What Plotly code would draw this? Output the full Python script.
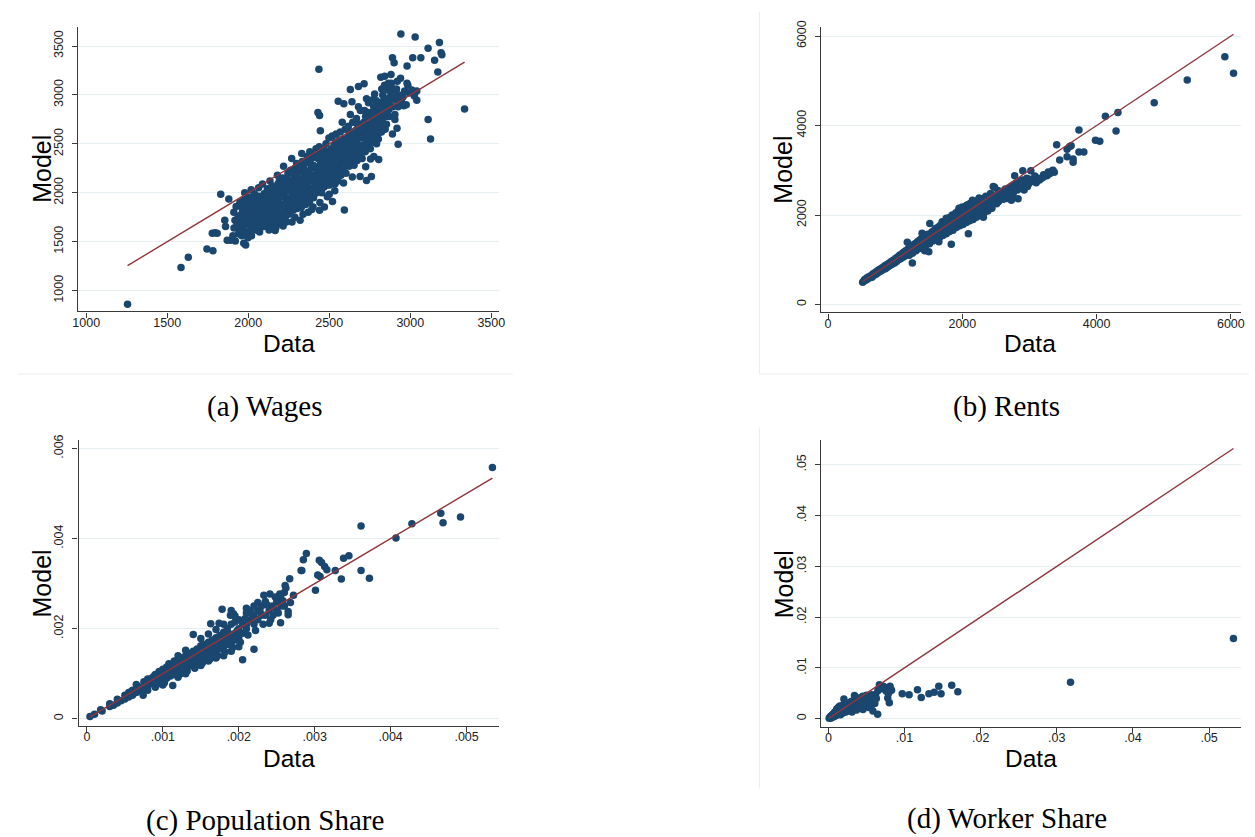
import plotly.graph_objects as go

# ---------------- data: (Data, Model) pairs ----------------
wages = [
    (1255, 860), (1585, 1235), (1630, 1340), (1745, 1425), (1782, 1408), (1778, 1585), (1795, 1590),
    (1808, 1585), (1830, 1985), (1880, 1935), (1855, 1720), (1860, 1655), (1870, 1515), (1890, 1515),
    (1920, 1507), (1911, 1800), (1984, 1466), (1972, 1483), (2166, 1615), (2593, 1825), (2436, 3263),
    (2430, 2820), (2440, 2790), (2445, 2635), (2942, 3622), (3030, 3593), (3180, 3535), (3110, 3478),
    (3190, 3430), (3195, 3410), (3150, 3355), (3065, 3380), (3015, 3380), (2980, 3295), (2890, 3380),
    (2900, 3330), (3170, 3235), (3335, 2855), (3040, 2945), (3110, 2750), (3125, 2550), (2925, 2495),
    (2918, 2660), (2905, 2750), (2960, 2890), (2980, 3120), (2630, 3055), (2680, 3085), (2715, 3115),
    (2555, 2935), (2590, 2910), (2640, 2930), (2805, 2340), (2775, 2370), (2755, 2345), (2690, 2165),
    (2760, 2165), (2730, 2125), (2725, 2265), (2520, 1910), (2500, 1985), (2470, 1855), (2440, 1820),
    (2400, 1855),
    (1905, 1560), (1912, 1640), (1918, 1720), (1925, 1860), (1930, 1680), (1938, 1760), (1945, 1620),
    (1948, 1900), (1940, 1580),
    (1955, 1700), (1958, 1780), (1962, 1840), (1966, 1650), (1970, 1920), (1975, 1730), (1980, 1600),
    (1984, 1860), (1988, 1790), (1992, 1960), (1995, 1680), (1998, 1540), (1960, 1560), (1978, 2000),
    (2003, 1700), (2006, 1800), (2010, 1880), (2014, 1650), (2018, 2030), (2022, 1760), (2026, 1940),
    (2030, 1710), (2034, 1850), (2038, 1990), (2042, 1620), (2046, 1780), (2048, 1900), (2020, 1560),
    (2053, 1680), (2056, 1780), (2060, 1900), (2064, 2050), (2068, 1740), (2072, 1840), (2076, 1960),
    (2080, 1650), (2084, 1880), (2088, 2090), (2092, 1820), (2095, 1720), (2098, 1990), (2070, 1600),
    (2103, 1700), (2106, 1790), (2110, 1870), (2114, 1950), (2118, 2040), (2122, 1660), (2126, 1830),
    (2130, 1920), (2134, 2120), (2138, 1760), (2142, 2000), (2146, 1680), (2148, 1880), (2128, 1620),
    (2153, 1720), (2156, 1850), (2160, 1940), (2164, 2050), (2168, 1780), (2172, 1900), (2176, 2000),
    (2180, 2180), (2184, 1820), (2188, 1680), (2192, 2120), (2195, 1960), (2198, 1760), (2170, 1640),
    (2203, 1730), (2206, 1880), (2210, 1990), (2214, 2080), (2218, 2270), (2222, 1800), (2226, 1950),
    (2230, 2040), (2234, 1700), (2238, 2150), (2242, 1830), (2245, 2200), (2248, 1920), (2215, 1660),
    (2253, 1800), (2256, 1920), (2260, 2030), (2264, 2120), (2268, 2350), (2272, 1860), (2276, 1990),
    (2280, 2070), (2284, 2240), (2288, 1750), (2292, 2180), (2295, 1930), (2298, 2300), (2270, 1700),
    (2303, 1840), (2306, 1960), (2310, 2060), (2314, 2140), (2318, 2230), (2322, 1900), (2326, 2010),
    (2330, 2400), (2334, 2100), (2338, 1780), (2342, 2290), (2345, 2190), (2348, 1990), (2320, 1720),
    (2353, 1880), (2356, 2000), (2360, 2080), (2364, 2180), (2368, 2310), (2372, 1950), (2376, 2050),
    (2380, 2420), (2384, 2140), (2388, 2250), (2392, 1830), (2395, 2120), (2398, 2360), (2370, 1800),
    (2403, 1950), (2406, 2050), (2410, 2150), (2414, 2260), (2418, 2450), (2422, 2000), (2426, 2100),
    (2430, 2350), (2434, 2200), (2438, 2470), (2442, 1900), (2445, 2300), (2448, 2020),
    (2453, 2000), (2456, 2120), (2460, 2250), (2464, 2380), (2468, 2060), (2472, 2180), (2476, 2300),
    (2480, 2500), (2484, 2150), (2488, 1960), (2492, 2420), (2495, 2240), (2498, 2560),
    (2503, 2080), (2506, 2200), (2510, 2320), (2514, 2450), (2518, 2580), (2522, 2130), (2526, 2260),
    (2530, 2380), (2534, 2020), (2538, 2520), (2542, 2600), (2545, 2180), (2548, 2300),
    (2553, 2120), (2556, 2250), (2560, 2360), (2564, 2470), (2568, 2620), (2572, 2180), (2576, 2300),
    (2580, 2720), (2584, 2420), (2588, 2100), (2592, 2550), (2595, 2530), (2598, 2650),
    (2603, 2200), (2606, 2330), (2610, 2450), (2614, 2560), (2618, 2680), (2622, 2270), (2626, 2380),
    (2630, 2800), (2634, 2500), (2638, 2620), (2642, 2160), (2645, 2720), (2648, 2400),
    (2653, 2280), (2656, 2400), (2660, 2520), (2664, 2640), (2668, 2760), (2672, 2330), (2676, 2460),
    (2680, 2880), (2684, 2580), (2688, 2700), (2692, 2840), (2695, 2370), (2698, 2620),
    (2703, 2350), (2706, 2480), (2710, 2600), (2714, 2720), (2718, 2840), (2722, 2420), (2726, 2540),
    (2730, 2960), (2734, 2660), (2738, 2780), (2742, 2920), (2745, 2480), (2748, 2700),
    (2753, 2450), (2756, 2580), (2760, 2700), (2764, 2820), (2768, 2950), (2772, 2520), (2776, 2640),
    (2780, 3010), (2784, 2760), (2788, 2880), (2792, 2500), (2795, 2700), (2798, 2600),
    (2803, 2550), (2806, 2680), (2810, 2800), (2814, 2920), (2818, 3180), (2822, 2620), (2826, 2740),
    (2830, 3000), (2834, 2860), (2838, 2960), (2842, 3190), (2845, 2650), (2848, 2780),
    (2853, 2700), (2857, 2840), (2861, 2960), (2865, 3120), (2869, 2780), (2873, 2900), (2877, 3040),
    (2881, 3210), (2885, 2960), (2890, 2600), (2895, 3060),
    (2905, 2800), (2910, 2950), (2915, 3060), (2920, 3140), (2925, 2880), (2930, 3000), (2940, 3170),
    (2945, 2940), (2955, 2980), (2965, 3040), (2975, 2900), (2985, 3100), (2995, 3020), (3010, 3050),
    (3025, 2990), (3040, 3040),
    (1952, 1745), (1963, 1885), (1971, 1615), (1979, 1810), (1986, 1705), (1993, 1895), (1999, 1765),
    (2007, 1585), (2011, 1955), (2016, 1830), (2023, 1690), (2029, 1885), (2033, 1780), (2041, 1935),
    (2047, 1705), (2052, 1845), (2058, 1625), (2063, 1965), (2069, 1795), (2074, 1690), (2079, 1905),
    (2086, 1770), (2091, 1950), (2097, 1655), (2101, 1850), (2108, 1735), (2113, 2005), (2117, 1815),
    (2121, 1900), (2127, 1700), (2133, 1980), (2137, 1855), (2141, 1790), (2147, 2070), (2151, 1905),
    (2157, 1645), (2162, 1800), (2166, 1995), (2173, 1855), (2178, 1725), (2183, 2090), (2187, 1900),
    (2193, 1795), (2199, 2030), (2201, 1960), (2207, 1790), (2212, 2150), (2217, 1870), (2223, 2000),
    (2228, 1745), (2233, 2110), (2237, 1895), (2243, 2020), (2249, 1780), (2251, 2080), (2257, 1860),
    (2261, 2230), (2266, 1960), (2271, 2060), (2277, 1820), (2282, 2160), (2287, 2010), (2293, 1880),
    (2299, 2100), (2301, 2180), (2307, 1910), (2313, 2260), (2317, 2020), (2323, 2100), (2327, 1850),
    (2333, 2320), (2337, 2060), (2343, 1940), (2349, 2230), (2351, 2130), (2357, 1950), (2363, 2370),
    (2366, 2040), (2373, 2220), (2378, 1900), (2383, 2300), (2387, 2020), (2393, 2180), (2399, 1980),
    (2401, 2280), (2407, 2110), (2413, 2390), (2417, 2000), (2423, 2230), (2428, 2060), (2433, 2410),
    (2437, 2150), (2443, 2060), (2449, 2360), (2451, 2190), (2457, 2060), (2463, 2310), (2467, 2450),
    (2473, 2120), (2478, 2360), (2483, 2240), (2489, 2080), (2494, 2330), (2499, 2150), (2502, 2270),
    (2508, 2400), (2513, 2160), (2519, 2350), (2524, 2210), (2529, 2480), (2535, 2090), (2541, 2300),
    (2547, 2420), (2552, 2330), (2558, 2170), (2563, 2540), (2569, 2240), (2574, 2400), (2579, 2500),
    (2586, 2230), (2591, 2360), (2597, 2450), (2602, 2380), (2608, 2520), (2613, 2280), (2619, 2430),
    (2624, 2600), (2629, 2330), (2636, 2460), (2641, 2560), (2647, 2300), (2652, 2470), (2658, 2600),
    (2663, 2350), (2669, 2520), (2674, 2700), (2679, 2430), (2686, 2560), (2691, 2650), (2697, 2480),
    (2702, 2560), (2708, 2700), (2713, 2440), (2719, 2620), (2724, 2780), (2729, 2520), (2736, 2640),
    (2741, 2820), (2747, 2560), (2752, 2660), (2758, 2800), (2763, 2560), (2769, 2740), (2774, 2880),
    (2779, 2600), (2786, 2820), (2791, 2940), (2797, 2680), (2802, 2760), (2808, 2880), (2813, 2620),
    (2819, 2850), (2824, 3060), (2829, 2700), (2836, 2820), (2841, 3100), (2847, 2880), (2855, 2920),
    (2862, 3050), (2868, 2850), (2876, 2980), (2883, 3120), (2892, 2880), (2898, 3000),
]

rents = [
    (515, 500), (530, 520), (545, 560), (560, 540), (575, 590), (590, 570), (605, 620), (620, 600),
    (640, 650), (655, 610), (670, 690), (690, 660), (705, 720), (720, 680), (740, 760), (755, 720),
    (770, 790), (790, 750), (805, 820), (820, 780), (840, 860), (855, 800), (870, 890), (890, 840),
    (905, 920), (920, 870), (940, 960), (955, 900), (970, 990), (990, 930),
    (1005, 1030), (1020, 960), (1035, 1060), (1050, 1000), (1065, 1100), (1080, 1020), (1095, 1130),
    (1110, 1050), (1125, 1170), (1140, 1080), (1155, 1200), (1170, 1110), (1180, 1390), (1190, 1240),
    (1200, 1150), (1215, 1270), (1230, 1180), (1245, 1300), (1255, 925), (1260, 1210), (1275, 1340),
    (1290, 1240), (1305, 1370), (1320, 1270), (1335, 1410), (1350, 1300), (1365, 1440), (1380, 1330),
    (1395, 1480), (1400, 1590), (1410, 1360), (1425, 1510), (1440, 1200), (1455, 1540), (1470, 1400),
    (1485, 1570), (1500, 1180), (1500, 1430), (1515, 1810), (1530, 1460), (1545, 1620), (1560, 1490),
    (1575, 1650), (1590, 1520), (1605, 1690), (1620, 1550), (1635, 1720), (1650, 1400), (1665, 1760),
    (1680, 1580), (1695, 1800), (1710, 1610), (1725, 1830), (1740, 1640), (1755, 1870), (1770, 1660),
    (1785, 1900), (1800, 1690), (1815, 1950), (1835, 1345), (1830, 1720), (1845, 1960), (1860, 1740),
    (1875, 2000), (1890, 1770), (1905, 2050), (1920, 1800), (1935, 2080), (1950, 1820), (1965, 2110),
    (1980, 1850), (1995, 2140), (2010, 1870), (2025, 2170), (2040, 1900), (2055, 2200), (2066, 2216),
    (2070, 1920), (2085, 2230), (2090, 1580), (2100, 1950), (2115, 2260), (2130, 1970), (2145, 2290),
    (2160, 2000), (2175, 2300), (2190, 2030), (2205, 2310), (2220, 2050), (2240, 2330), (2260, 2080),
    (2280, 2340), (2300, 2100), (2313, 1950), (2320, 2370), (2340, 2120), (2360, 2180), (2380, 2240),
    (2400, 2400), (2400, 2220), (2420, 2320), (2440, 2300), (2460, 2640), (2480, 2620), (2500, 2400),
    (2530, 2550), (2550, 2350), (2580, 2430), (2600, 2480), (2630, 2440), (2660, 2370), (2690, 2500),
    (2730, 2330), (2750, 2420), (2780, 2880), (2800, 2600), (2830, 2365), (2850, 2650), (2870, 2700),
    (2900, 2990), (2920, 2560), (2950, 2680), (2990, 2700), (3020, 2990), (3030, 2750), (3060, 2800),
    (3100, 2720), (3150, 2780), (3190, 2830), (3230, 2870), (3260, 2880), (3300, 2920), (3340, 2990),
    (3370, 2955), (3405, 3570), (3450, 3230), (3560, 3300), (3560, 3470), (3600, 3530), (3620, 3550),
    (3650, 3250), (3650, 3180), (3737, 3900), (3737, 3410), (3810, 3410), (3983, 3670), (4047, 3650),
    (4131, 4210), (4290, 3880), (4318, 4290), (4858, 4510), (5350, 5020), (5910, 5540), (6040, 5170),
    (1050, 1050), (1100, 1090), (1150, 1140), (1200, 1190), (1250, 1230), (1300, 1290), (1350, 1340),
    (1400, 1380), (1450, 1430), (1500, 1480), (1550, 1530), (1600, 1580), (1650, 1620), (1700, 1680),
    (1750, 1720), (1800, 1770), (1850, 1820), (1900, 1860), (1950, 1910), (2000, 1960), (2050, 2010),
    (2100, 2060), (2150, 2100), (2200, 2150), (2250, 2190), (2300, 2240), (2350, 2280), (2400, 2330),
    (2450, 2380), (2500, 2430), (2550, 2480), (2600, 2530), (2650, 2570), (2700, 2600), (2750, 2650),
    (2800, 2700), (2850, 2740), (2900, 2780),
    (1210, 1100), (1230, 1280), (1260, 1150), (1280, 1220), (1310, 1200), (1330, 1320), (1360, 1250),
    (1380, 1400), (1410, 1300), (1430, 1430), (1460, 1330), (1480, 1470), (1510, 1360), (1530, 1520),
    (1560, 1420), (1580, 1560), (1610, 1460), (1630, 1600), (1660, 1500), (1680, 1650), (1710, 1540),
    (1730, 1700), (1760, 1580), (1780, 1740), (1810, 1630), (1830, 1800), (1860, 1660), (1880, 1850),
    (1910, 1720), (1930, 1890), (1960, 1760), (1980, 1940), (2010, 1790), (2030, 1990), (2060, 1830),
    (2080, 2040), (2110, 1870), (2130, 2100), (2160, 1900), (2180, 2150), (2210, 1950), (2230, 2180),
    (2260, 1990), (2290, 2200), (2320, 2040), (2350, 2230), (2380, 2090), (2410, 2260), (2440, 2150),
    (2470, 2330), (2510, 2250), (2540, 2300), (2570, 2520), (2610, 2350), (2640, 2580), (2680, 2420),
    (2710, 2550), (2760, 2500), (2820, 2560), (2860, 2620), (2880, 2770), (2940, 2760), (2960, 2820),
    (3000, 2800), (2970, 2640), (3080, 2870), (3130, 2820), (3210, 2900), (3280, 2960), (3350, 3000),
    (1700, 1850), (1760, 1930), (1850, 2000), (1950, 2150), (2000, 2180), (2150, 2330), (2250, 2380),
    (2350, 2420), (2420, 2480), (1600, 1700), (1470, 1560),
]

pop_share = [
    (0.00004, 0.00005), (0.0001, 0.0001), (0.00018, 0.0002), (0.0002, 0.00017), (0.0003, 0.00027),
    (0.0003, 0.00033), (0.00035, 0.0003), (0.0004, 0.00043), (0.0004, 0.00035), (0.00045, 0.0004),
    (0.0005, 0.00052), (0.0005, 0.00044), (0.00055, 0.00058), (0.00055, 0.00048), (0.0006, 0.00063),
    (0.0006, 0.00052), (0.00065, 0.00076), (0.00065, 0.00058), (0.0007, 0.0007), (0.0007, 0.00062),
    (0.00074, 0.00052), (0.00075, 0.00082), (0.00075, 0.00068), (0.0008, 0.00088), (0.0008, 0.00072),
    (0.0008, 0.00063), (0.00085, 0.0009), (0.00085, 0.00078), (0.0009, 0.00098), (0.0009, 0.00083),
    (0.0009, 0.0007), (0.00095, 0.00105), (0.00095, 0.0009), (0.00095, 0.0008), (0.001, 0.0011),
    (0.001, 0.00095), (0.001, 0.00085), (0.001, 0.00075), (0.00105, 0.00115), (0.00105, 0.001),
    (0.00105, 0.0009), (0.0011, 0.0012), (0.0011, 0.00105), (0.0011, 0.00095), (0.00113, 0.00074),
    (0.00115, 0.00128), (0.00115, 0.0011), (0.00115, 0.00098), (0.0012, 0.0013), (0.0012, 0.00118),
    (0.0012, 0.00105), (0.0012, 0.00092), (0.00125, 0.00135), (0.00125, 0.0012), (0.00125, 0.00108),
    (0.0013, 0.0014), (0.0013, 0.00125), (0.0013, 0.00112), (0.0013, 0.001), (0.00135, 0.00145),
    (0.00135, 0.0013), (0.00135, 0.00118), (0.0014, 0.00187), (0.0014, 0.0015), (0.0014, 0.00135),
    (0.0014, 0.0012), (0.00145, 0.00155), (0.00145, 0.0014), (0.00145, 0.00126), (0.0015, 0.00162),
    (0.0015, 0.00145), (0.0015, 0.0013), (0.0015, 0.00118), (0.00155, 0.00165), (0.00155, 0.0015),
    (0.00155, 0.00135), (0.0016, 0.0017), (0.0016, 0.00155), (0.0016, 0.0014), (0.0016, 0.00128),
    (0.00163, 0.00211), (0.00165, 0.00175), (0.00165, 0.0016), (0.00165, 0.00145), (0.0017, 0.0018),
    (0.0017, 0.00165), (0.0017, 0.0015), (0.0017, 0.00135), (0.00174, 0.00212), (0.00175, 0.00185),
    (0.00175, 0.0017), (0.00175, 0.00155), (0.00178, 0.00243), (0.0018, 0.00192), (0.0018, 0.00175),
    (0.0018, 0.0016), (0.0018, 0.0014), (0.00185, 0.002), (0.00185, 0.0018), (0.00185, 0.00165),
    (0.00189, 0.0023), (0.0019, 0.0021), (0.0019, 0.00185), (0.0019, 0.0017), (0.0019, 0.0015),
    (0.00193, 0.00233), (0.00195, 0.00215), (0.00195, 0.0019), (0.00195, 0.00175), (0.002, 0.0022),
    (0.002, 0.002), (0.002, 0.0018), (0.002, 0.0016), (0.00205, 0.00131), (0.00205, 0.0021),
    (0.00205, 0.0019), (0.0021, 0.00235), (0.0021, 0.0021), (0.0021, 0.002), (0.00215, 0.0024),
    (0.00215, 0.0022), (0.0022, 0.00154), (0.0022, 0.0023), (0.0022, 0.0021), (0.00225, 0.0024),
    (0.00225, 0.0022), (0.0023, 0.0025), (0.0023, 0.0023), (0.00233, 0.00274), (0.00235, 0.0026),
    (0.00235, 0.0023), (0.0024, 0.00212), (0.00241, 0.00277), (0.0024, 0.0024), (0.00245, 0.0025),
    (0.00245, 0.0023), (0.0025, 0.0026), (0.0025, 0.0024), (0.00254, 0.00277), (0.00255, 0.00213),
    (0.00255, 0.0027), (0.0026, 0.0028), (0.0026, 0.0025), (0.00261, 0.00296), (0.00262, 0.0029),
    (0.00265, 0.00231), (0.00265, 0.00238), (0.00267, 0.00311), (0.00282, 0.00329), (0.00283, 0.00329),
    (0.00285, 0.00353), (0.00289, 0.00367), (0.00301, 0.00285), (0.00304, 0.00319), (0.00307, 0.00316),
    (0.00306, 0.00352), (0.00309, 0.00347), (0.00313, 0.00338), (0.00316, 0.00331), (0.00327, 0.00329),
    (0.00335, 0.0031), (0.00338, 0.00356), (0.00345, 0.00362), (0.00361, 0.00428), (0.00361, 0.00329),
    (0.00372, 0.00312), (0.00407, 0.00401), (0.00428, 0.00433), (0.00466, 0.00456), (0.00469, 0.00435),
    (0.00492, 0.00448), (0.00534, 0.00558),
    (0.00058, 0.0006), (0.00068, 0.00066), (0.00078, 0.00078), (0.00088, 0.00094), (0.00092, 0.00076),
    (0.00098, 0.001), (0.00102, 0.0008), (0.00108, 0.00122), (0.00112, 0.001), (0.00118, 0.00122),
    (0.00122, 0.00098), (0.00128, 0.0013), (0.00132, 0.00106), (0.00138, 0.00142), (0.00142, 0.00112),
    (0.00148, 0.0015), (0.00152, 0.00124), (0.00158, 0.0016), (0.00162, 0.00132), (0.00168, 0.0017),
    (0.00172, 0.0014), (0.00178, 0.00178), (0.00182, 0.00148), (0.00188, 0.00188), (0.00192, 0.00158),
    (0.00198, 0.00196), (0.00202, 0.0017), (0.00208, 0.00222), (0.00212, 0.00186), (0.00218, 0.00226),
    (0.00222, 0.00196), (0.00228, 0.00238), (0.00232, 0.0021), (0.00238, 0.00252), (0.00242, 0.0022),
    (0.00248, 0.0027), (0.00252, 0.00235), (0.00258, 0.00262), (0.00272, 0.00274), (0.00256, 0.0025),
    (0.00268, 0.00258), (0.0017, 0.00198), (0.0015, 0.00178), (0.0013, 0.00152), (0.0012, 0.0014),
    (0.0016, 0.00188), (0.0021, 0.00245), (0.0022, 0.0025), (0.00225, 0.00258), (0.00195, 0.00228),
    (0.0019, 0.0024), (0.0018, 0.0021),
]

worker_share = [
    (0.0001, 0.0001), (0.0002, 0.0003), (0.0003, 0.0001), (0.0004, 0.0006), (0.0005, 0.0003),
    (0.0006, 0.0009), (0.0007, 0.0004), (0.0008, 0.0012), (0.0009, 0.0006), (0.001, 0.0015),
    (0.001, 0.0008), (0.0011, 0.0019), (0.0012, 0.001), (0.0013, 0.0022), (0.0014, 0.0012),
    (0.0015, 0.0025), (0.0015, 0.0016), (0.0016, 0.0008), (0.0017, 0.0014), (0.0018, 0.002),
    (0.0019, 0.0011), (0.002, 0.0028), (0.00204, 0.0039), (0.0021, 0.0017), (0.0022, 0.0024),
    (0.0023, 0.0013), (0.0024, 0.002), (0.0025, 0.0029), (0.0026, 0.0016), (0.0027, 0.0023),
    (0.0028, 0.0032), (0.0029, 0.0019), (0.003, 0.0026), (0.0031, 0.0013), (0.0032, 0.0035),
    (0.0033, 0.0022), (0.00343, 0.00457), (0.0035, 0.0029), (0.0036, 0.0038), (0.0037, 0.0017),
    (0.0038, 0.0025), (0.0039, 0.0033), (0.004, 0.0041), (0.0041, 0.0035), (0.0042, 0.0028),
    (0.0043, 0.0021), (0.0044, 0.0038), (0.0045, 0.0044), (0.00455, 0.0018), (0.0046, 0.0031),
    (0.0047, 0.0025), (0.0048, 0.0042), (0.0049, 0.0036), (0.005, 0.0046), (0.0051, 0.003),
    (0.0052, 0.0039), (0.0053, 0.0022), (0.0054, 0.0044), (0.0055, 0.0034), (0.0056, 0.0025),
    (0.0057, 0.0047), (0.00585, 0.0015), (0.0059, 0.0038), (0.006, 0.0042), (0.0061, 0.003),
    (0.0062, 0.0047), (0.00647, 0.00086), (0.0065, 0.0055), (0.0067, 0.0067), (0.0069, 0.0065),
    (0.0071, 0.0059), (0.0074, 0.0062), (0.0076, 0.0054), (0.0078, 0.0041), (0.008, 0.00313),
    (0.0081, 0.0055), (0.0083, 0.0056), (0.0081, 0.0064), (0.0097, 0.0049), (0.0106, 0.0047),
    (0.0117, 0.0057), (0.0122, 0.0042), (0.0132, 0.0049), (0.0139, 0.0052), (0.0145, 0.0064),
    (0.0148, 0.0049), (0.0162, 0.0066), (0.017, 0.0053), (0.0318, 0.0072), (0.0532, 0.0158),
    (0.0003, 0.0005), (0.0005, 0.0006), (0.0007, 0.001), (0.0009, 0.0013), (0.0012, 0.0017),
    (0.0014, 0.0019), (0.0016, 0.0021), (0.0019, 0.0024), (0.0021, 0.0026), (0.0023, 0.003),
    (0.0026, 0.0025), (0.0028, 0.0027), (0.003, 0.0034), (0.0032, 0.003), (0.0034, 0.0031),
    (0.0036, 0.0033), (0.0038, 0.0036), (0.004, 0.0033), (0.0042, 0.004), (0.0044, 0.0032),
    (0.0046, 0.0041), (0.0048, 0.0034), (0.005, 0.004), (0.0053, 0.0043), (0.0055, 0.004),
    (0.0058, 0.0045), (0.006, 0.0036), (0.0063, 0.004), (0.0066, 0.0058), (0.0072, 0.0064),
    (0.0077, 0.006), (0.0079, 0.005), (0.0082, 0.0058), (0.0008, 0.0005), (0.0011, 0.0007),
    (0.0013, 0.0009), (0.0018, 0.0013), (0.0022, 0.0016), (0.0025, 0.0021), (0.0027, 0.0017),
]

panel_titles = ["(a) Wages", "(b) Rents", "(c) Population Share", "(d) Worker Share"]

wage_ticks = [1000, 1500, 2000, 2500, 3000, 3500]
rent_ticks = [0, 2000, 4000, 6000]
pop_x_ticks = [0, 0.001, 0.002, 0.003, 0.004, 0.005]
pop_x_labels = ["0", ".001", ".002", ".003", ".004", ".005"]
pop_y_ticks = [0, 0.002, 0.004, 0.006]
pop_y_labels = ["0", ".002", ".004", ".006"]
work_ticks = [0, 0.01, 0.02, 0.03, 0.04, 0.05]
work_labels = ["0", ".01", ".02", ".03", ".04", ".05"]

# ---------------- styling ----------------
W, H = 1255, 837
NAVY = "#1a476f"
MAROON = "#90353b"
AXIS = "#3a3a3a"
GRID = "#e5eef0"
SANS = "Liberation Sans, Arial, sans-serif"
SERIF = "Liberation Serif, Times New Roman, serif"


def px(x):
    return x / W


def py(y):
    return 1 - y / H


panels = [
    dict(pts=wages, xd=(73, 498), yd=(20, 307), xr=[951, 3549], yr=[787, 3696],
         xt=wage_ticks, xl=[str(t) for t in wage_ticks], yt=wage_ticks, yl=[str(t) for t in wage_ticks],
         model=(36, 163.5), data=(286, 339), title=(261.7, 403)),
    dict(pts=rents, xd=(822.7, 1247), yd=(20, 308), xr=[-108, 6152], yr=[-177, 6206],
         xt=rent_ticks, xl=[str(t) for t in rent_ticks], yt=rent_ticks, yl=[str(t) for t in rent_ticks],
         model=(785, 163.5), data=(1034, 339), title=(1010, 403)),
    dict(pts=pop_share, xd=(73.3, 498), yd=(437, 725), xr=[-0.00011, 0.00543], yr=[-0.00016, 0.00618],
         xt=pop_x_ticks, xl=pop_x_labels, yt=pop_y_ticks, yl=pop_y_labels,
         model=(36, 581.7), data=(285.7, 758), title=(261.7, 820)),
    dict(pts=worker_share, xd=(822.7, 1247), yd=(437, 725.7), xr=[-0.00099, 0.0542], yr=[-0.00156, 0.0548],
         xt=work_ticks, xl=work_labels, yt=work_ticks, yl=work_labels,
         model=(785, 581.7), data=(1035, 758), title=(1010.7, 818)),
]

fig = go.Figure()
annotations = []
layout_axes = {}

for i, p in enumerate(panels, start=1):
    xs = [a for a, b in p["pts"]]
    ys = [b for a, b in p["pts"]]
    xa = "x" if i == 1 else f"x{i}"
    ya = "y" if i == 1 else f"y{i}"
    fig.add_trace(go.Scatter(x=xs, y=ys, mode="markers", xaxis=xa, yaxis=ya,
                             marker=dict(size=7.5, color=NAVY, line=dict(width=0)),
                             showlegend=False, hoverinfo="skip"))
    lo, hi = min(xs), max(xs)
    fig.add_trace(go.Scatter(x=[lo, hi], y=[lo, hi], mode="lines", xaxis=xa, yaxis=ya,
                             line=dict(color=MAROON, width=1.4),
                             showlegend=False, hoverinfo="skip"))
    xkey = "xaxis" if i == 1 else f"xaxis{i}"
    ykey = "yaxis" if i == 1 else f"yaxis{i}"
    layout_axes[xkey] = dict(
        domain=[px(p["xd"][0]), px(p["xd"][1])], range=p["xr"], anchor=ya,
        tickmode="array", tickvals=p["xt"], ticktext=p["xl"],
        ticks="outside", ticklen=5, tickwidth=1, tickcolor=AXIS, ticklabelstandoff=-6,
        showline=True, linecolor=AXIS, linewidth=1.2, showgrid=False, zeroline=False,
        tickfont=dict(family=SANS, size=12.5, color="#222"))
    layout_axes[ykey] = dict(
        domain=[py(p["yd"][1]), py(p["yd"][0])], range=p["yr"], anchor=xa,
        tickmode="array", tickvals=p["yt"], ticktext=p["yl"], tickangle=-90,
        ticks="outside", ticklen=5, tickwidth=1, tickcolor=AXIS, ticklabelstandoff=4,
        showline=True, linecolor=AXIS, linewidth=1.2, showgrid=True, gridcolor=GRID, gridwidth=1,
        zeroline=False, tickfont=dict(family=SANS, size=12.5, color="#222"))
    annotations.append(dict(text="Model", x=px(p["model"][0]), y=py(p["model"][1]), xref="paper", yref="paper",
                            textangle=-90, showarrow=False, xanchor="center", yanchor="middle",
                            font=dict(family=SANS, size=25, color="#000")))
    annotations.append(dict(text="Data", x=px(p["data"][0]), y=py(p["data"][1]), xref="paper", yref="paper",
                            showarrow=False, xanchor="center", yanchor="middle",
                            font=dict(family=SANS, size=24.5, color="#000")))
    annotations.append(dict(text=panel_titles[i - 1], x=px(p["title"][0]), y=py(p["title"][1]),
                            xref="paper", yref="paper", showarrow=False, xanchor="center", yanchor="middle",
                            font=dict(family=SERIF, size=29, color="#000")))

BORDER = "#e8eef0"
shapes = [
    dict(type="line", xref="paper", yref="paper", x0=px(12), x1=px(512), y0=py(370), y1=py(370),
         line=dict(color=BORDER, width=1)),
    dict(type="line", xref="paper", yref="paper", x0=px(760.7), x1=px(760.7), y0=py(5), y1=py(370),
         line=dict(color=BORDER, width=1)),
    dict(type="line", xref="paper", yref="paper", x0=px(760.7), x1=1, y0=py(370), y1=py(370),
         line=dict(color=BORDER, width=1)),
    dict(type="line", xref="paper", yref="paper", x0=px(760.7), x1=px(760.7), y0=py(424), y1=py(788),
         line=dict(color=BORDER, width=1)),
]

fig.update_layout(width=W, height=H, margin=dict(l=0, r=0, t=0, b=0),
                  paper_bgcolor="white", plot_bgcolor="white",
                  annotations=annotations, shapes=shapes, **layout_axes)

fig.write_html("out.html")
